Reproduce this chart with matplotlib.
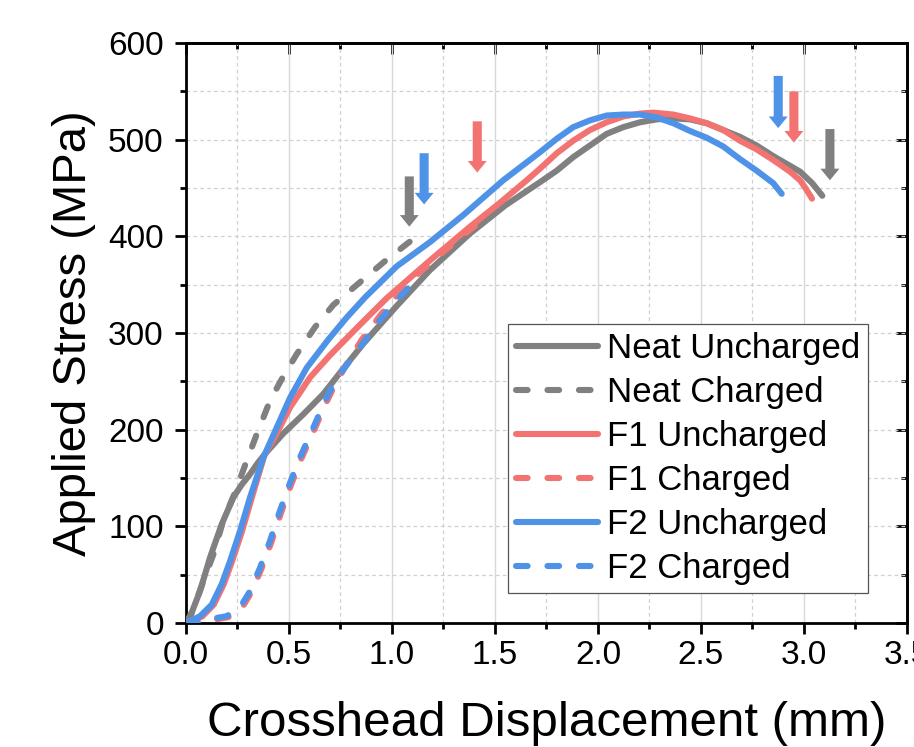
import matplotlib
matplotlib.use("Agg")
import matplotlib.pyplot as plt
from matplotlib.ticker import MultipleLocator, FormatStrFormatter

plt.rcParams['font.family'] = ['Liberation Sans', 'DejaVu Sans']

# ---------------- data ----------------
neat_u_x = [0, 0.03, 0.068, 0.117, 0.173, 0.23, 0.27, 0.311, 0.35, 0.384, 0.472, 0.57,
            0.667, 0.748, 0.861, 1.023, 1.184, 1.379, 1.55, 1.718, 1.80, 1.88, 1.961,
            2.042, 2.123, 2.204, 2.285, 2.366, 2.447, 2.528, 2.608, 2.689, 2.77, 2.851,
            2.932, 2.981, 3.04, 3.089]
neat_u_y = [0, 12, 33, 68, 102, 130, 143, 154, 166, 175, 196, 216,
            237, 259, 289, 328, 365, 403, 432, 456, 468, 482, 494,
            506, 513, 518, 521, 522, 521, 517, 510, 503, 494, 483,
            473, 467, 455, 442]

neat_c_x = [0, 0.019, 0.07, 0.133, 0.181, 0.238, 0.295, 0.343, 0.408, 0.464, 0.537,
            0.626, 0.715, 0.836, 0.958, 1.071, 1.096]
neat_c_y = [0, 5, 35, 71, 106, 135, 168, 195, 230, 252, 278,
            306, 329, 351, 373, 392, 396]

f1_u_x = [0, 0.04, 0.08, 0.135, 0.183, 0.224, 0.272, 0.32, 0.38, 0.44, 0.505, 0.602,
          0.699, 0.828, 0.974, 1.184, 1.379, 1.52, 1.654, 1.718, 1.80, 1.88, 1.961,
          2.042, 2.123, 2.204, 2.268, 2.366, 2.447, 2.528, 2.608, 2.689, 2.77, 2.851,
          2.932, 2.981, 3.01, 3.039]
f1_u_y = [0, 3, 7, 19, 40, 64, 95, 130, 173, 196, 223, 254,
          277, 305, 336, 375, 410, 434, 458, 470, 486, 499, 510,
          518, 524, 527, 528, 526, 522, 517, 510, 499, 490, 479,
          467, 458, 449, 439]

f1_c_x = [0, 0.06, 0.125, 0.205, 0.27, 0.318, 0.366, 0.415, 0.463, 0.512, 0.56, 0.625,
          0.674, 0.722, 0.78, 0.853, 0.942, 1.03, 1.12, 1.249, 1.379, 1.41]
f1_c_y = [0, 1, 3, 6, 15, 32, 56, 84, 115, 144, 170, 201,
          225, 246, 268, 293, 318, 340, 360, 384, 407, 412]

f2_u_x = [0, 0.03, 0.068, 0.125, 0.173, 0.214, 0.262, 0.311, 0.375, 0.44, 0.505, 0.586,
          0.69, 0.78, 0.87, 1.023, 1.184, 1.346, 1.54, 1.718, 1.80, 1.88, 1.961, 2.042,
          2.123, 2.204, 2.285, 2.366, 2.447, 2.528, 2.608, 2.689, 2.77, 2.851, 2.892]
f2_u_y = [0, 3, 7, 19, 40, 64, 95, 130, 171, 202, 233, 264,
          293, 316, 337, 369, 394, 422, 458, 487, 501, 513, 520, 525,
          526, 526, 523, 517, 509, 502, 493, 480, 468, 455, 444]

f2_c_x = [0, 0.06, 0.117, 0.197, 0.262, 0.311, 0.359, 0.408, 0.456, 0.505, 0.553, 0.618,
          0.667, 0.715, 0.77, 0.85, 0.94, 1.023, 1.112, 1.136]
f2_c_y = [0, 2, 4, 7, 16, 33, 57, 85, 116, 145, 171, 202,
          226, 247, 264, 287, 313, 334, 354, 359]

labels = ["Neat Uncharged", "Neat Charged", "F1 Uncharged", "F1 Charged",
          "F2 Uncharged", "F2 Charged"]

# arrows marking failure points
arrow_x = [1.084, 1.156, 1.414, 2.875, 2.951, 3.126]
arrow_top = [462, 486, 519, 566, 550, 511]
arrow_tip = [410, 433, 466, 512, 497, 458]
arrow_group = ["neat", "f2", "f1", "f2", "f1", "neat"]

x_ticks = [0.0, 0.5, 1.0, 1.5, 2.0, 2.5, 3.0, 3.5]
y_ticks = [0, 100, 200, 300, 400, 500, 600]

# ---------------- style ----------------
GRAY = '#808080'
RED = '#f27371'
BLUE = '#4f93e8'
colors = {"neat": GRAY, "f1": RED, "f2": BLUE}
LW = 4.4
DASH = (0, (1.9, 3.25))

fig = plt.figure(figsize=(9.14, 7.47), dpi=100)
ax = fig.add_axes([0.2035, 0.166, 0.7888, 0.7764])

series = [
    (neat_u_x, neat_u_y, GRAY, '-'),
    (neat_c_x, neat_c_y, GRAY, DASH),
    (f1_u_x, f1_u_y, RED, '-'),
    (f1_c_x, f1_c_y, RED, DASH),
    (f2_u_x, f2_u_y, BLUE, '-'),
    (f2_c_x, f2_c_y, BLUE, DASH),
]
for (xs, ys, c, ls), lab in zip(series, labels):
    ax.plot(xs, ys, color=c, ls=ls, lw=LW, label=lab, solid_capstyle='round',
            dash_capstyle='round', solid_joinstyle='round', zorder=3)

for x, t, b, g in zip(arrow_x, arrow_top, arrow_tip, arrow_group):
    ax.arrow(x, t, 0, b - t, width=0.044, head_width=0.092, head_length=12,
             length_includes_head=True, color=colors[g], lw=0, zorder=4)

ax.set_xlim(0, 3.5)
ax.set_ylim(0, 600)
ax.set_xticks(x_ticks)
ax.set_yticks(y_ticks)
ax.xaxis.set_major_formatter(FormatStrFormatter('%.1f'))
ax.xaxis.set_minor_locator(MultipleLocator(0.25))
ax.yaxis.set_minor_locator(MultipleLocator(50))

ax.set_axisbelow(True)
ax.xaxis.grid(True, which='major', ls='-', color='#d8d8d8', lw=1.0)
ax.xaxis.grid(True, which='minor', ls=(0, (3, 2.5)), color='#d0d0d0', lw=0.9)
ax.yaxis.grid(True, which='both', ls=(0, (3, 2.5)), color='#d0d0d0', lw=0.9)

for s in ax.spines.values():
    s.set_linewidth(2.0)
ax.tick_params(which='major', direction='out', length=8, width=2.0, labelsize=24,
               pad=4, colors='black')
ax.tick_params(which='minor', direction='out', length=4, width=2.0)
ax.tick_params(axis='y', which='major', pad=8)

top = ax.secondary_xaxis('top')
top.set_xticks(x_ticks)
top.xaxis.set_minor_locator(MultipleLocator(0.25))
top.tick_params(which='major', direction='in', length=8, width=2.0, labeltop=False)
top.tick_params(which='minor', direction='in', length=4, width=2.0)
top.spines['top'].set_linewidth(2.0)

right = ax.secondary_yaxis('right')
right.set_yticks(y_ticks)
right.yaxis.set_minor_locator(MultipleLocator(50))
right.tick_params(which='major', direction='in', length=8, width=2.0, labelright=False)
right.tick_params(which='minor', direction='in', length=4, width=2.0)
right.spines['right'].set_linewidth(2.0)

ax.set_xlabel("Crosshead Displacement (mm)", fontsize=35.5)
ax.set_ylabel("Applied Stress (MPa)", fontsize=34)
ax.xaxis.set_label_coords(0.5, -0.134)
ax.yaxis.set_label_coords(-0.125, 0.5)

leg = ax.legend(loc='upper left', bbox_to_anchor=(0.5561, 0.5659),
                bbox_transform=fig.transFigure, fontsize=25, frameon=True,
                fancybox=False, borderpad=0.22, labelspacing=0.32,
                handlelength=2.35, handletextpad=0.28, borderaxespad=0)
leg.get_frame().set_edgecolor('#555555')
leg.get_frame().set_linewidth(0.9)
leg.get_frame().set_alpha(1)

fig.savefig("out.png", dpi=100)
